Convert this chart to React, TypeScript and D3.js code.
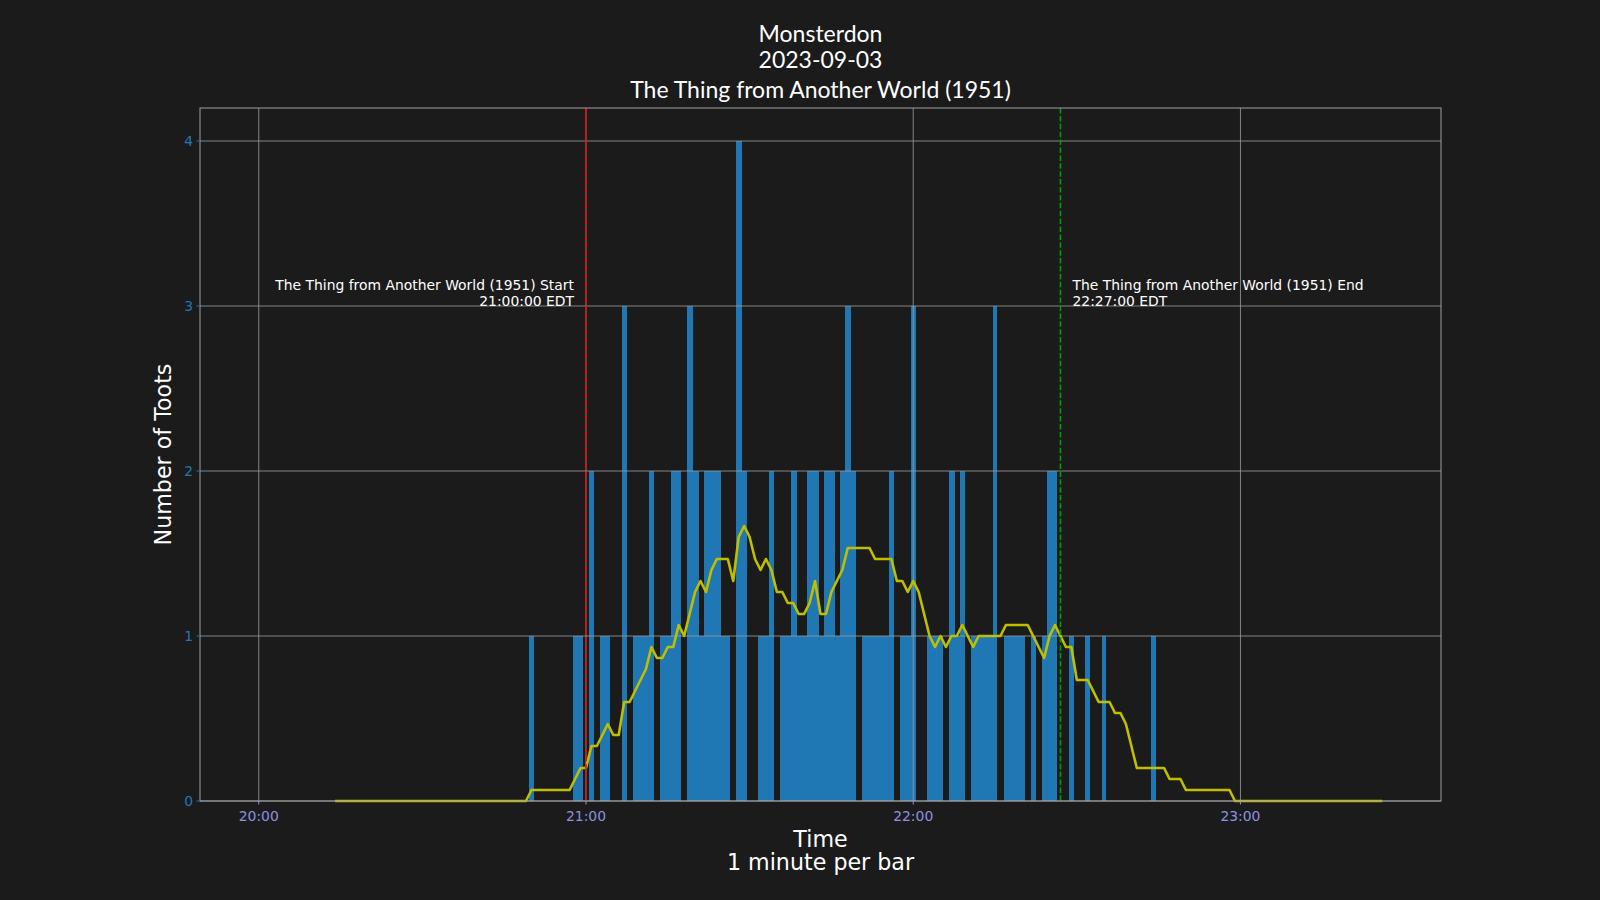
import React from 'react'
import * as d3 from 'd3'

// toots per minute, first value is 20:50
const barStart = '20:50'
const tootCounts = [
  1, 0, 0, 0, 0, 0, 0, 0, 1, 1,
  0, 2, 0, 1, 1, 0, 0, 3, 0, 1,
  1, 1, 2, 0, 1, 1, 2, 2, 0, 3,
  2, 1, 2, 2, 2, 1, 1, 0, 4, 2,
  0, 0, 1, 1, 2, 0, 1, 1, 2, 1,
  1, 2, 2, 1, 2, 2, 1, 2, 3, 2,
  0, 1, 1, 1, 1, 1, 2, 0, 1, 1,
  3, 0, 0, 1, 1, 1, 0, 2, 1, 2,
  0, 1, 1, 1, 1, 3, 0, 1, 1, 1,
  1, 0, 1, 0, 1, 2, 2, 0, 0, 1,
  0, 0, 1, 0, 0, 1, 0, 0, 0, 0,
  0, 0, 0, 0, 1,
]

// 15 minute average, in fifteenths, first value is 20:14
const avgStart = '20:14'
const avgFifteenths = [
  0, 0, 0, 0, 0, 0, 0, 0, 0, 0, 0, 0,
  0, 0, 0, 0, 0, 0, 0, 0, 0, 0, 0, 0,
  0, 0, 0, 0, 0, 0, 0, 0, 0, 0, 0, 0,
  1, 1, 1, 1, 1, 1, 1, 1, 2, 3,
  3, 5, 5, 6, 7, 6, 6, 9, 9, 10,
  11, 12, 14, 13, 13, 14, 14, 16, 15, 17,
  19, 20, 19, 21, 22, 22, 22, 20, 24, 25,
  24, 22, 21, 22, 21, 19, 19, 18, 18, 17,
  17, 18, 20, 17, 17, 19, 20, 21, 23, 23,
  23, 23, 23, 22, 22, 22, 22, 20, 20, 19,
  20, 19, 17, 15, 14, 15, 14, 15, 15, 16,
  15, 14, 15, 15, 15, 15, 15, 16, 16, 16,
  16, 16, 15, 14, 13, 15, 16, 15, 14, 14,
  11, 11, 11, 10, 9, 9, 9, 8, 8, 7,
  5, 3, 3, 3, 3, 3, 3, 2, 2, 2,
  1, 1, 1, 1, 1, 1, 1, 1, 1,
  0, 0, 0, 0, 0, 0, 0, 0, 0, 0, 0, 0, 0, 0,
  0, 0, 0, 0, 0, 0, 0, 0, 0, 0, 0, 0, 0, 0,
]

const dataStart = '20:00'
const dataEnd = '23:26'
const movie = 'The Thing from Another World (1951)'
const movieStart = '21:00'
const movieEnd = '22:27'
const titleLines = ['Monsterdon', '2023-09-03']
const yTicks = [0, 1, 2, 3, 4]

const W = 1600
const H = 900
const margin = { top: 108, right: 159, bottom: 99, left: 200 }
const barWidthMin = 0.864

const at = (hm: string) => {
  const [h, m] = hm.split(':').map(Number)
  return new Date(2023, 8, 3, h, m)
}
const addMin = (d: Date, m: number) => new Date(d.getTime() + m * 60000)

const t0 = at(dataStart)
const t1 = at(dataEnd)
const pad = ((t1.getTime() - t0.getTime()) / 60000 + barWidthMin) * 0.05 + barWidthMin / 2

const x = d3
  .scaleTime()
  .domain([addMin(t0, -pad), addMin(t1, pad)])
  .range([margin.left, W - margin.right])

const y = d3
  .scaleLinear()
  .domain([0, 4.2])
  .range([H - margin.bottom, margin.top])

const bars = tootCounts.map((c, i) => ({ t: addMin(at(barStart), i), c, next: tootCounts[i + 1] || 0 }))
const avg = avgFifteenths.map((v, i) => ({ t: addMin(at(avgStart), i), v: v / 15 }))

const line = d3
  .line<{ t: Date; v: number }>()
  .x((d) => x(d.t))
  .y((d) => y(d.v))

const fmt = d3.timeFormat('%H:%M')
const grid = '#a0a0a0'
const font = 'DejaVu Sans, sans-serif'

const App = () => {
  const xTicks = x.ticks(d3.timeHour.every(1) as d3.TimeInterval)
  const bw = x(addMin(t0, barWidthMin)) - x(t0)
  const step = x(addMin(t0, 1)) - x(t0)
  const xs = x(at(movieStart))
  const xe = x(at(movieEnd))
  const cx = (margin.left + W - margin.right) / 2

  return (
    <div style={{ position: 'absolute', left: 0, top: 0 }}>
      <svg width={W} height={H} style={{ display: 'block' }}>
        <rect width={W} height={H} fill="#1b1b1b" />

        {/* bars; a bar with a neighbour runs into it, like the pixel-snapped original */}
        <g shapeRendering="crispEdges" fill="#1f77b4">
          {bars
            .filter((d) => d.c > 0)
            .map((d, i) => (
              <rect
                key={i}
                x={x(d.t) - bw / 2}
                y={y(d.c)}
                width={d.next > 0 ? step + 0.6 : bw}
                height={y(0) - y(d.c)}
              />
            ))}
        </g>

        {/* grid */}
        {xTicks.map((t, i) => (
          <line key={'gx' + i} x1={x(t)} x2={x(t)} y1={margin.top} y2={H - margin.bottom} stroke={grid} strokeWidth={0.8} />
        ))}
        {yTicks.map((v) => (
          <line key={'gy' + v} x1={margin.left} x2={W - margin.right} y1={y(v)} y2={y(v)} stroke={grid} strokeWidth={0.8} />
        ))}

        <path d={line(avg) || ''} fill="none" stroke="#bfbf00" strokeWidth={2.6} strokeLinejoin="round" />

        <line x1={xs} x2={xs} y1={margin.top} y2={H - margin.bottom} stroke="#ff0000" strokeWidth={1.6} strokeDasharray="5.5,2.4" />
        <line x1={xe} x2={xe} y1={margin.top} y2={H - margin.bottom} stroke="#00a000" strokeWidth={1.6} strokeDasharray="5.5,2.4" />

        <g fontFamily={font} fontSize={13.9} fill="#ffffff">
          <text x={xs - 12} y={y(3) - 16} textAnchor="end">{movie} Start</text>
          <text x={xs - 12} y={y(3) - 0.5} textAnchor="end">{movieStart}:00 EDT</text>
          <text x={xe + 12} y={y(3) - 16}>{movie} End</text>
          <text x={xe + 12} y={y(3) - 0.5}>{movieEnd}:00 EDT</text>
        </g>

        {/* frame */}
        <rect
          x={margin.left}
          y={margin.top}
          width={W - margin.left - margin.right}
          height={H - margin.top - margin.bottom}
          fill="none"
          stroke={grid}
          strokeWidth={1}
        />

        {/* x axis */}
        <g fontFamily={font} fontSize={13.9} fill="#9090e0">
          {xTicks.map((t, i) => (
            <g key={'tx' + i}>
              <line x1={x(t)} x2={x(t)} y1={H - margin.bottom} y2={H - margin.bottom + 3.5} stroke="#9090e0" />
              <text x={x(t)} y={H - margin.bottom + 20} textAnchor="middle">{fmt(t)}</text>
            </g>
          ))}
        </g>

        {/* y axis */}
        <g fontFamily={font} fontSize={13.9} fill="#1f77b4">
          {yTicks.map((v) => (
            <g key={'ty' + v}>
              <line x1={margin.left - 3.5} x2={margin.left} y1={y(v)} y2={y(v)} stroke="#1f77b4" />
              <text x={margin.left - 7} y={y(v) + 5} textAnchor="end">{v}</text>
            </g>
          ))}
        </g>

        <g fontFamily={font} fontSize={22.2} fill="#ffffff" textAnchor="middle">
          <text x={cx} y={847}>Time</text>
          <text x={cx} y={870}>1 minute per bar</text>
          <text transform={`translate(171,${(margin.top + H - margin.bottom) / 2}) rotate(-90)`}>Number of Toots</text>
        </g>

        <g fontFamily="Lato, sans-serif" fontSize={23} fill="#ffffff" textAnchor="middle">
          {titleLines.map((s, i) => (
            <text key={s} x={cx} y={42 + i * 25.5}>{s}</text>
          ))}
          <text x={cx} y={98}>{movie}</text>
        </g>
      </svg>
    </div>
  )
}

export default App
